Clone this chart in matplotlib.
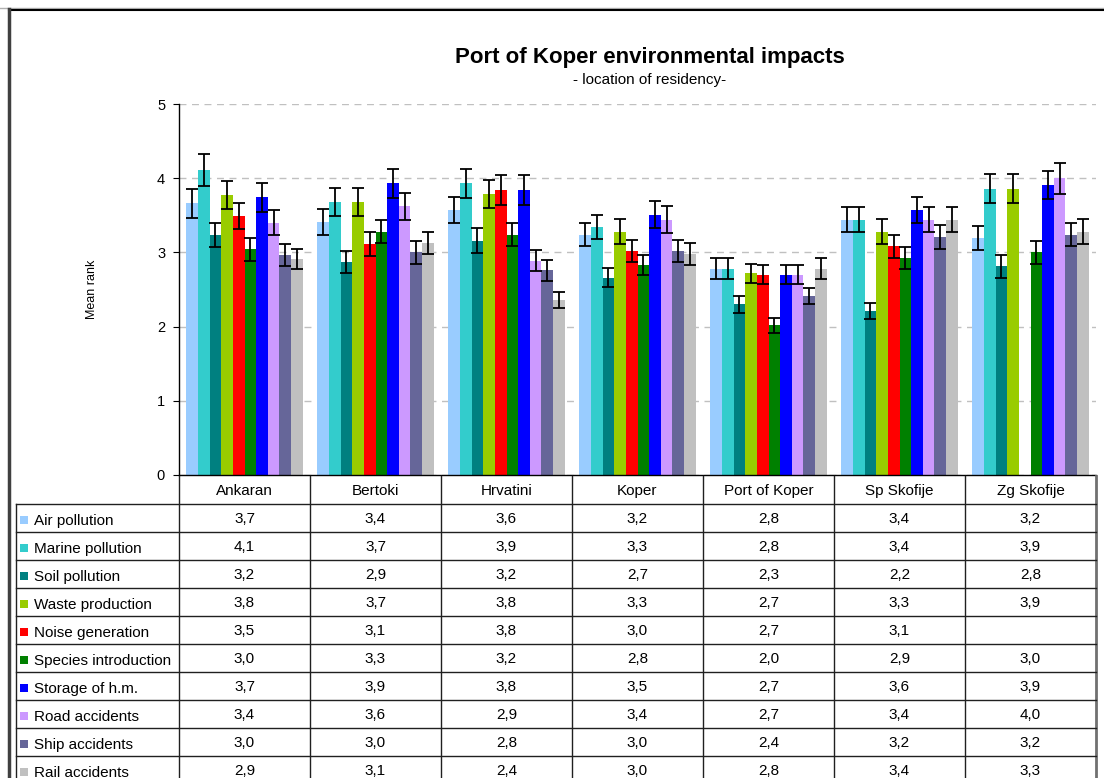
import numpy as np
import matplotlib
matplotlib.use("Agg")
import matplotlib.pyplot as plt
from matplotlib.lines import Line2D

plt.rcParams['font.family'] = ['Liberation Sans', 'DejaVu Sans']

# locations (columns of the table)
locations = ["Ankaran", "Bertoki", "Hrvatini", "Koper", "Port of Koper", "Sp Skofije", "Zg Skofije"]

# mean rank per impact (nan = no value)
air_pollution = [3.66, 3.41, 3.57, 3.24, 2.78, 3.44, 3.19]
marine_pollution = [4.11, 3.68, 3.93, 3.34, 2.78, 3.44, 3.86]
soil_pollution = [3.23, 2.87, 3.16, 2.66, 2.30, 2.21, 2.81]
waste_production = [3.77, 3.68, 3.79, 3.28, 2.72, 3.28, 3.86]
noise_generation = [3.49, 3.11, 3.84, 3.02, 2.70, 3.08, np.nan]
species_introduction = [3.04, 3.28, 3.24, 2.83, 2.02, 2.92, 3.00]
storage_hm = [3.74, 3.93, 3.84, 3.51, 2.70, 3.57, 3.91]
road_accidents = [3.40, 3.62, 2.89, 3.44, 2.70, 3.44, 4.00]
ship_accidents = [2.96, 3.00, 2.76, 3.02, 2.41, 3.21, 3.24]
rail_accidents = [2.91, 3.13, 2.36, 2.98, 2.78, 3.44, 3.28]

# half length of error bars
err_air = [0.19, 0.17, 0.18, 0.16, 0.14, 0.17, 0.16]
err_marine = [0.21, 0.19, 0.20, 0.16, 0.14, 0.17, 0.20]
err_soil = [0.16, 0.15, 0.17, 0.13, 0.11, 0.11, 0.15]
err_waste = [0.19, 0.19, 0.19, 0.17, 0.13, 0.17, 0.20]
err_noise = [0.18, 0.16, 0.20, 0.15, 0.13, 0.15, np.nan]
err_species = [0.15, 0.16, 0.16, 0.14, 0.10, 0.15, 0.15]
err_storage = [0.19, 0.20, 0.20, 0.18, 0.13, 0.18, 0.19]
err_road = [0.17, 0.18, 0.14, 0.18, 0.13, 0.17, 0.21]
err_ship = [0.15, 0.15, 0.14, 0.15, 0.11, 0.16, 0.16]
err_rail = [0.14, 0.15, 0.11, 0.15, 0.14, 0.17, 0.17]

impacts = ["Air pollution", "Marine pollution", "Soil pollution", "Waste production",
           "Noise generation", "Species introduction", "Storage of h.m.",
           "Road accidents", "Ship accidents", "Rail accidents"]
colors = ["#99CCFF", "#33CCCC", "#008080", "#99CC00", "#FF0000",
          "#008000", "#0000FF", "#CC99FF", "#666699", "#C0C0C0"]

means = [air_pollution, marine_pollution, soil_pollution, waste_production, noise_generation,
         species_introduction, storage_hm, road_accidents, ship_accidents, rail_accidents]
errs = [err_air, err_marine, err_soil, err_waste, err_noise,
        err_species, err_storage, err_road, err_ship, err_rail]

W, H = 1104, 778
fig = plt.figure(figsize=(W / 100, H / 100), dpi=100)
fig.patch.set_facecolor("white")

# main chart
ax = fig.add_axes([179 / W, (H - 475) / H, (1096 - 179) / W, (475 - 104) / H])
n = len(impacts)
bw = 0.0886
xc = np.arange(len(locations)) + 0.5
for j in range(n):
    m = np.array(means[j], dtype=float)
    e = np.array(errs[j], dtype=float)
    ok = ~np.isnan(m)
    xs = xc + (j - (n - 1) / 2) * bw
    ax.bar(xs[ok], m[ok], width=bw, color=colors[j], zorder=2)
    ax.errorbar(xs[ok], m[ok], yerr=e[ok], fmt='none', ecolor='black',
                elinewidth=1.3, capsize=4.5, capthick=1.3, zorder=3)

ax.set_xlim(0, len(locations))
ax.set_ylim(0, 5)
ax.set_yticks(range(6))
ax.set_xticks([])
ax.tick_params(axis='y', direction='out', length=4, labelsize=10.5, pad=6)
ax.yaxis.grid(True, color='#C0C0C0', linestyle=(0, (5, 4)), linewidth=1, zorder=0)
ax.set_axisbelow(True)
for s in ['top', 'right']:
    ax.spines[s].set_visible(False)
ax.spines['left'].set_linewidth(1)
ax.spines['bottom'].set_linewidth(1)
ax.set_ylabel("Mean rank", fontsize=9)
ax.yaxis.set_label_coords(-0.088, 0.5)

fig.text(650 / W, 1 - 58 / H, "Port of Koper environmental impacts",
         ha='center', va='center', fontsize=16, fontweight='bold')
fig.text(650 / W, 1 - 80 / H, "- location of residency-",
         ha='center', va='center', fontsize=11)

# data table under the chart
lab_w = 163 / 131
nrows = len(impacts)
tax = fig.add_axes([16 / W, (H - 476 - 28 * (nrows + 1)) / H, (1096 - 16) / W, 28 * (nrows + 1) / H])
tax.set_xlim(-lab_w, len(locations))
tax.set_ylim(nrows + 1, 0)
tax.axis('off')
lc = '#202020'
for k in range(len(locations) + 1):
    tax.plot([k, k], [0, nrows + 1], color=lc if k < len(locations) else '#707070',
             lw=1 if k < len(locations) else 2, clip_on=False)
tax.plot([-lab_w, -lab_w], [1, nrows + 1], color=lc, lw=1, clip_on=False)
for r in range(1, nrows + 2):
    tax.plot([-lab_w, len(locations)], [r, r], color=lc, lw=1, clip_on=False)

for k, loc in enumerate(locations):
    tax.text(k + 0.5, 0.55, loc, ha='center', va='center', fontsize=11)
for j in range(nrows):
    y = j + 1.6
    tax.plot([-lab_w + 8 / 131], [y - 0.02], marker='s', markersize=6,
             color=colors[j], markeredgewidth=0, clip_on=False)
    tax.text(-lab_w + 18 / 131, y, impacts[j], ha='left', va='center', fontsize=11)
    for k in range(len(locations)):
        v = means[j][k]
        if np.isnan(v):
            continue
        tax.text(k + 0.5, y - 0.05, f"{v:.1f}".replace('.', ','),
                 ha='center', va='center', fontsize=11)

# outer chart frame: left and top edges only
fig.lines.append(Line2D([0, 1], [1 - 8 / H] * 2, transform=fig.transFigure,
                        color='#B0B0B0', lw=1))
fig.lines.append(Line2D([9 / W, 1], [1 - 9.5 / H] * 2, transform=fig.transFigure,
                        color='black', lw=1.5))
fig.lines.append(Line2D([9 / W] * 2, [0, 1 - 9 / H], transform=fig.transFigure,
                        color='#404040', lw=2.5))

fig.savefig("out.png", dpi=100)
